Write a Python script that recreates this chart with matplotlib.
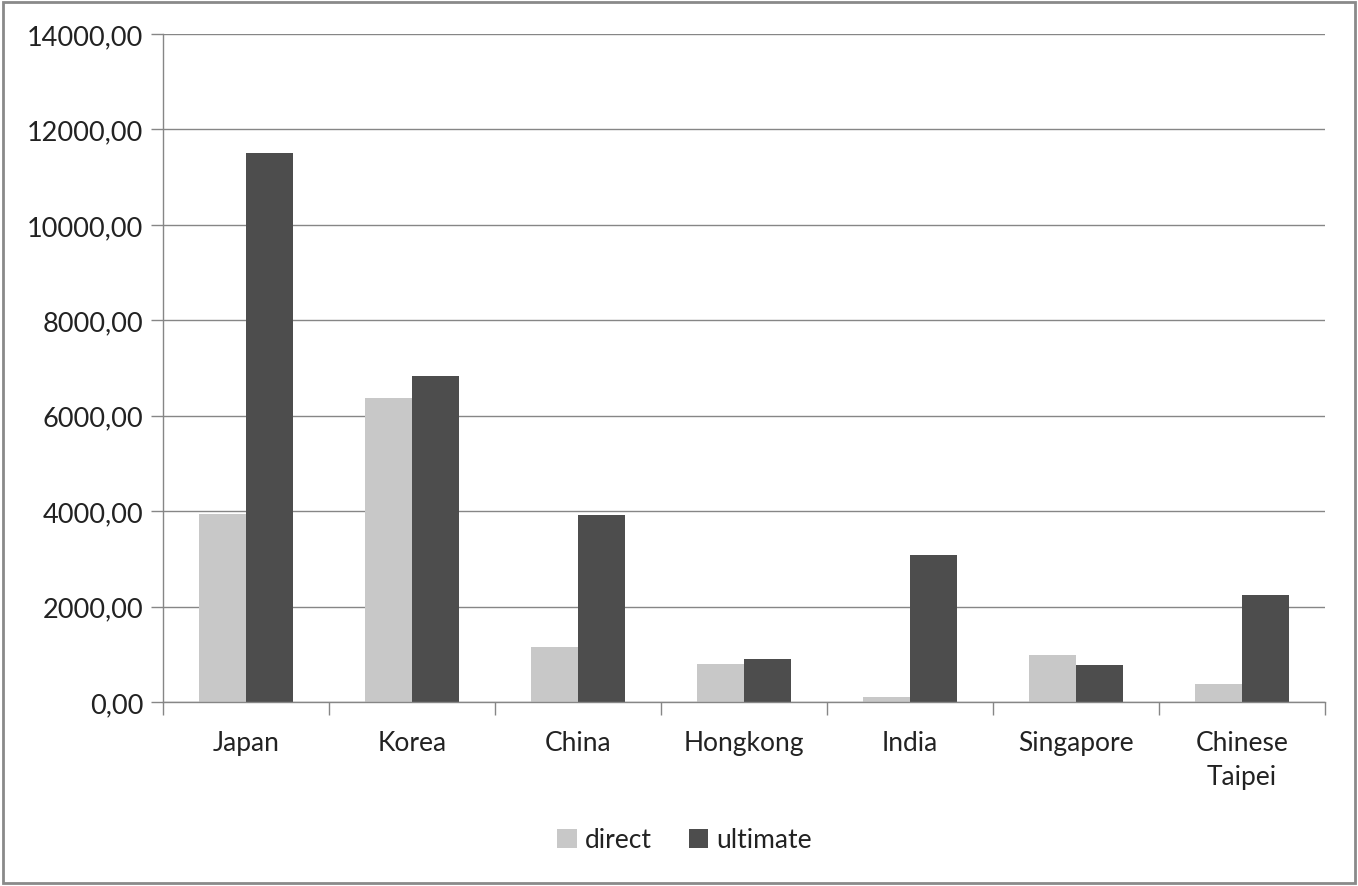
import numpy as np
import matplotlib.pyplot as plt
from matplotlib.ticker import FuncFormatter

countries = ['Japan', 'Korea', 'China', 'Hongkong', 'India', 'Singapore', 'Chinese\nTaipei']
direct = [3940, 6370, 1150, 800, 105, 985, 375]
ultimate = [11510, 6830, 3920, 900, 3080, 775, 2245]

plt.rcParams['font.family'] = ['Lato', 'DejaVu Sans']

fig = plt.figure(figsize=(13.58, 8.87), dpi=100)
ax = fig.add_axes([0.12, 0.2074, 0.8557, 0.7531])

x = np.arange(len(countries))
w = 0.283
ax.bar(x - w / 2, direct, w, color='#c8c8c8', label='direct')
ax.bar(x + w / 2, ultimate, w, color='#4d4d4d', label='ultimate')

ax.set_xlim(-0.5, len(countries) - 0.5)
ax.set_ylim(0, 14000)
ax.set_yticks(np.arange(0, 14001, 2000))
ax.yaxis.set_major_formatter(FuncFormatter(lambda v, p: ('%.2f' % v).replace('.', ',')))
ax.yaxis.grid(True, color='#868686', linewidth=1)
ax.set_axisbelow(True)

ax.set_xticks(x)
ax.set_xticklabels(countries, fontsize=19, color='#222222', linespacing=1.45)
ax.set_xticks(np.arange(-0.5, len(countries), 1), minor=True)
ax.tick_params(axis='x', which='major', length=0, pad=20)
ax.tick_params(axis='x', which='minor', length=9, color='#868686', width=1)
ax.tick_params(axis='y', length=9, color='#868686', width=1, labelsize=19.5, labelcolor='#222222', pad=5)

for s in ['top', 'right']:
    ax.spines[s].set_visible(False)
for s in ['left', 'bottom']:
    ax.spines[s].set_color('#868686')
    ax.spines[s].set_linewidth(1)

fig.legend(loc='center', bbox_to_anchor=(0.504, 0.052), ncol=2, frameon=False,
           fontsize=19, handlelength=0.75, handleheight=0.75, handletextpad=0.3,
           columnspacing=1.4, labelcolor='#222222')

fig.patches.append(plt.Rectangle((0.002, 0.003), 0.996, 0.994, transform=fig.transFigure,
                                 fill=False, edgecolor='#8a8a8a', linewidth=2))

fig.savefig('out.png', dpi=100)
